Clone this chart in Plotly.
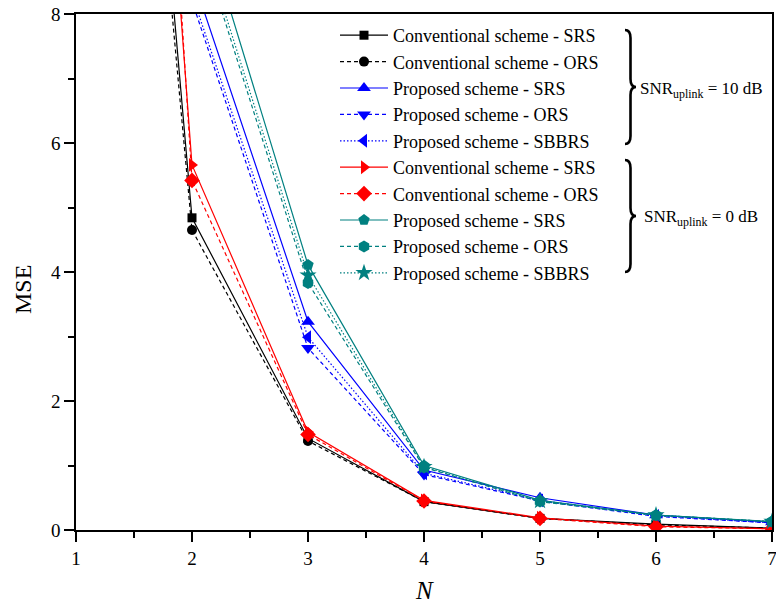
import plotly.graph_objects as go

N = [1, 2, 3, 4, 5, 6, 7]

# SNR_uplink = 10 dB
conv_srs_10 = [25.4, 4.84, 1.42, 0.44, 0.18, 0.09, 0.03]
conv_ors_10 = [24.2, 4.65, 1.38, 0.44, 0.18, 0.08, 0.03]
prop_srs_10 = [40.0, 8.60, 3.23, 0.93, 0.50, 0.23, 0.12]
prop_ors_10 = [38.0, 8.20, 2.82, 0.86, 0.45, 0.21, 0.11]
prop_sbbrs_10 = [39.0, 8.30, 2.99, 0.88, 0.46, 0.22, 0.11]
# SNR_uplink = 0 dB
conv_srs_0 = [30.0, 5.66, 1.52, 0.46, 0.19, 0.06, 0.02]
conv_ors_0 = [34.2, 5.42, 1.48, 0.45, 0.18, 0.05, 0.02]
prop_srs_0 = [45.0, 10.0, 4.11, 1.00, 0.46, 0.23, 0.13]
prop_ors_0 = [42.0, 9.50, 3.83, 0.97, 0.44, 0.23, 0.13]
prop_sbbrs_0 = [43.0, 9.63, 3.95, 0.98, 0.45, 0.23, 0.13]

names = [
    "Conventional scheme - SRS", "Conventional scheme - ORS",
    "Proposed scheme - SRS", "Proposed scheme - ORS", "Proposed scheme - SBBRS",
    "Conventional scheme - SRS", "Conventional scheme - ORS",
    "Proposed scheme - SRS", "Proposed scheme - ORS", "Proposed scheme - SBBRS",
]
series = [conv_srs_10, conv_ors_10, prop_srs_10, prop_ors_10, prop_sbbrs_10,
          conv_srs_0, conv_ors_0, prop_srs_0, prop_ors_0, prop_sbbrs_0]
colors = ["black", "black", "#0000ff", "#0000ff", "#0000ff",
          "#ff0000", "#ff0000", "#008080", "#008080", "#008080"]
dashes = ["solid", "4px,3px", "solid", "4px,3px", "1.5px,2px",
          "solid", "4px,3px", "solid", "4px,3px", "1.5px,2px"]
symbols = ["square", "circle", "triangle-up", "triangle-down", "triangle-left",
           "triangle-right", "diamond", "pentagon", "hexagon", "star"]
sizes = [9, 10, 12, 12, 12, 12, 12, 12, 12, 13]

FONT = "Liberation Serif, Times New Roman, serif"

fig = go.Figure()
for nm, ys, c, d, s, sz in zip(names, series, colors, dashes, symbols, sizes):
    fig.add_trace(go.Scatter(
        x=N, y=ys, name=nm, mode="lines+markers",
        line=dict(color=c, width=1.2, dash=d),
        marker=dict(symbol=s, size=sz, color=c, line=dict(width=0)),
    ))

W, H = 776, 607
# plot area in window pixels: x 76..772, y 14..530
L, R, T, B = 76, 772, 14, 530
def px(x):
    return (x - L) / (R - L)
def py(y):
    return (B - y) / (B - T)

def brace(x0, y0, y1, w):
    ym = (y0 + y1) / 2
    xm = x0 + w / 2
    r = 8
    pts = [
        f"M{px(x0)},{py(y0)}",
        f"Q{px(xm)},{py(y0)} {px(xm)},{py(y0 + r)}",
        f"L{px(xm)},{py(ym - r)}",
        f"Q{px(xm)},{py(ym)} {px(x0 + w)},{py(ym)}",
        f"Q{px(xm)},{py(ym)} {px(xm)},{py(ym + r)}",
        f"L{px(xm)},{py(y1 - r)}",
        f"Q{px(xm)},{py(y1)} {px(x0)},{py(y1)}",
    ]
    return " ".join(pts)

shapes = [
    dict(type="path", xref="paper", yref="paper", path=brace(625, 30, 144, 11),
         line=dict(color="black", width=2.6)),
    dict(type="path", xref="paper", yref="paper", path=brace(625, 160, 272, 11),
         line=dict(color="black", width=2.6)),
]

annotations = [
    dict(xref="paper", yref="paper", x=px(638), y=py(90), xanchor="left", yanchor="middle",
         text="SNR<sub>uplink</sub> = 10 dB", showarrow=False,
         font=dict(family=FONT, size=17, color="black")),
    dict(xref="paper", yref="paper", x=px(642), y=py(218), xanchor="left", yanchor="middle",
         text="SNR<sub>uplink</sub> = 0 dB", showarrow=False,
         font=dict(family=FONT, size=17, color="black")),
    dict(xref="paper", yref="paper", x=px(23), y=py(290), xanchor="center", yanchor="middle",
         text="MSE", textangle=-90, showarrow=False,
         font=dict(family=FONT, size=24, color="black")),
    dict(xref="paper", yref="paper", x=px(424), y=py(590), xanchor="center", yanchor="middle",
         text="<i>N</i>", showarrow=False,
         font=dict(family=FONT, size=25, color="black")),
]

fig.update_layout(
    width=W, height=H,
    margin=dict(l=L, r=W - R, t=T, b=H - B, autoexpand=False),
    paper_bgcolor="white", plot_bgcolor="white",
    font=dict(family=FONT, size=19, color="black"),
    showlegend=True,
    legend=dict(x=px(335), y=py(17), xanchor="left", yanchor="top",
                bgcolor="rgba(0,0,0,0)", borderwidth=0,
                font=dict(family=FONT, size=18, color="black"),
                itemwidth=48, tracegroupgap=0),
    shapes=shapes,
    annotations=annotations,
)
fig.update_xaxes(
    range=[1, 7], tickvals=[1, 2, 3, 4, 5, 6, 7], automargin=False,
    showgrid=False, zeroline=False, showline=True, linecolor="black", linewidth=1.5,
    mirror=True, ticks="outside", ticklen=10, tickwidth=1.5, tickcolor="black",
    minor=dict(dtick=0.5, tick0=1, ticks="outside", ticklen=6, tickwidth=1.5, tickcolor="black"),
    tickfont=dict(family=FONT, size=19), ticklabeloverflow="allow",
)
fig.update_yaxes(
    range=[0, 8], tickvals=[0, 2, 4, 6, 8], automargin=False,
    showgrid=False, zeroline=False, showline=True, linecolor="black", linewidth=1.5,
    mirror=True, ticks="outside", ticklen=10, tickwidth=1.5, tickcolor="black",
    minor=dict(dtick=1, tick0=0, ticks="outside", ticklen=6, tickwidth=1.5, tickcolor="black"),
    tickfont=dict(family=FONT, size=19), ticklabeloverflow="allow",
)

fig.write_html(
    "out.html",
    config={"displayModeBar": False},
    post_script="document.body.style.margin='0';document.body.style.overflow='hidden';",
)
